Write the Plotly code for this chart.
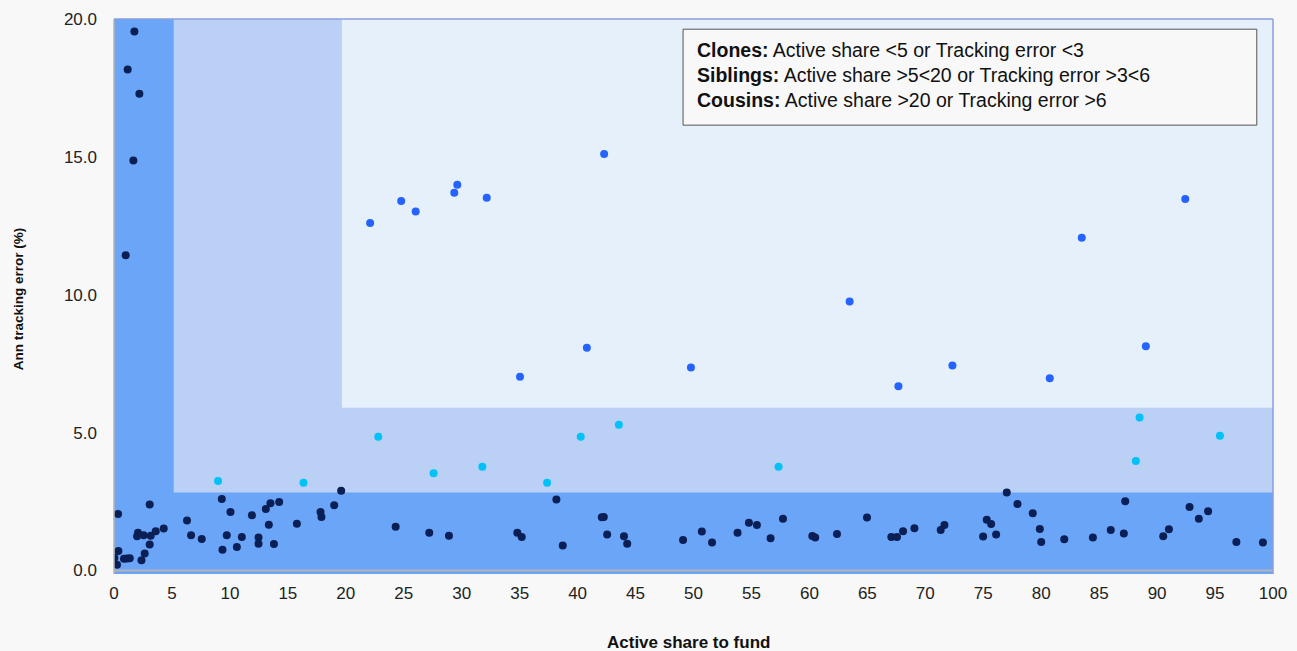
import plotly.graph_objects as go

# ---- data ----
clones_x = [1.76, 1.18, 2.19, 1.67, 1.01,
            19.6, 0.35, 3.08, 9.3, 10.05, 11.9, 13.1, 13.5, 14.25, 13.36, 15.78, 17.82, 17.9, 19.0,
            6.3, 6.65, 7.57, 9.73, 9.36, 10.6, 11.03, 12.47, 12.47, 13.8, 4.29, 3.6, 3.17, 3.08,
            2.56, 2.07, 1.99, 2.65, 2.37, 0.38, 0.03, 0.26, 0.86, 1.12, 1.36,
            24.3, 27.2, 28.9, 34.8, 35.18, 38.17, 38.72, 42.09, 42.26, 42.55, 44.0, 44.28,
            49.1, 50.72, 51.6, 53.8, 54.78, 55.47, 56.65, 57.72, 60.25, 60.5,
            62.38, 64.97, 67.07, 67.56, 68.08, 69.06, 71.33, 71.65, 74.99, 75.3, 75.68, 76.11,
            77.03, 77.95, 79.27, 79.88, 80.0, 81.99, 84.46, 86.0, 87.13, 87.25, 90.53, 91.02,
            92.8, 93.6, 94.4, 96.84, 99.13]
clones_y = [19.55, 18.17, 17.29, 14.87, 11.43,
            2.89, 2.05, 2.39, 2.59, 2.12, 2.0, 2.23, 2.44, 2.48, 1.66, 1.69, 2.12, 1.94, 2.36,
            1.81, 1.28, 1.14, 1.28, 0.75, 0.85, 1.21, 1.19, 0.97, 0.96, 1.52, 1.42, 1.26, 0.94,
            1.28, 1.37, 1.24, 0.61, 0.37, 0.7, 0.46, 0.21, 0.42, 0.43, 0.44,
            1.58, 1.37, 1.26, 1.37, 1.21, 2.57, 0.9, 1.93, 1.94, 1.3, 1.24, 0.97,
            1.1, 1.41, 1.01, 1.37, 1.73, 1.65, 1.17, 1.87, 1.25, 1.19,
            1.32, 1.92, 1.21, 1.21, 1.42, 1.53, 1.47, 1.65, 1.23, 1.84, 1.68, 1.3,
            2.83, 2.41, 2.07, 1.5, 1.03, 1.13, 1.19, 1.47, 1.34, 2.51, 1.24, 1.49,
            2.3, 1.87, 2.15, 1.03, 1.01]

siblings_x = [8.98, 16.35, 22.8, 27.58, 31.78, 37.37, 40.27, 43.56, 57.34, 88.49, 95.42, 88.17]
siblings_y = [3.24, 3.18, 4.85, 3.52, 3.76, 3.18, 4.85, 5.28, 3.76, 5.55, 4.88, 3.97]

cousins_x = [22.1, 24.78, 26.03, 29.36, 29.62, 32.16, 42.29, 40.8, 35.03, 49.78,
             63.47, 67.68, 72.34, 80.74, 83.5, 89.03, 92.43]
cousins_y = [12.6, 13.4, 13.02, 13.7, 13.99, 13.52, 15.1, 8.08, 7.02, 7.36,
             9.75, 6.68, 7.43, 6.97, 12.07, 8.13, 13.47]

legend_lines = [
    "<b>Clones:</b> Active share <5 or Tracking error <3",
    "<b>Siblings:</b> Active share >5<20 or Tracking error >3<6",
    "<b>Cousins:</b> Active share >20 or Tracking error >6",
]

x_title = "Active share to fund"
y_title = "Ann tracking error (%)"

# ---- style ----
FONT = "Liberation Sans"
C_DARK_BAND = "#6ba5f8"
C_MID_BAND = "#bbd0f5"
C_LIGHT_BAND = "#e6f0fa"
YMIN = -0.13

fig = go.Figure()
fig.add_trace(go.Scatter(x=clones_x, y=clones_y, mode="markers", name="Clones",
                         marker=dict(color="#0a1f56", size=8, line=dict(width=0))))
fig.add_trace(go.Scatter(x=siblings_x, y=siblings_y, mode="markers", name="Siblings",
                         marker=dict(color="#00c2f6", size=8, line=dict(width=0))))
fig.add_trace(go.Scatter(x=cousins_x, y=cousins_y, mode="markers", name="Cousins",
                         marker=dict(color="#2563ff", size=8, line=dict(width=0))))

shapes = [
    # medium bands (siblings zone)
    dict(type="rect", x0=0, x1=19.66, y0=YMIN, y1=20, fillcolor=C_MID_BAND, line_width=0, layer="below"),
    dict(type="rect", x0=0, x1=100, y0=YMIN, y1=5.9, fillcolor=C_MID_BAND, line_width=0, layer="below"),
    # dark bands (clones zone)
    dict(type="rect", x0=0, x1=5.15, y0=YMIN, y1=20, fillcolor=C_DARK_BAND, line_width=0, layer="below"),
    dict(type="rect", x0=0, x1=100, y0=YMIN, y1=2.83, fillcolor=C_DARK_BAND, line_width=0, layer="below"),
    # zero line
    dict(type="line", x0=0, x1=100, y0=0, y1=0, line=dict(color="#b4b4b4", width=2), layer="below"),
    # borders
    dict(type="line", xref="paper", yref="paper", x0=0, x1=0, y0=0, y1=1,
         line=dict(color="#b4b4b4", width=1.5)),
    dict(type="line", xref="paper", yref="paper", x0=0, x1=1, y0=1, y1=1,
         line=dict(color="#8a9fdf", width=1.5)),
    dict(type="line", xref="paper", yref="paper", x0=1, x1=1, y0=0, y1=1,
         line=dict(color="#8a9fdf", width=1.5)),
    # legend box
    dict(type="rect", x0=49.1, x1=98.6, y0=16.15, y1=19.63, fillcolor="#f8f8f8",
         line=dict(color="#555555", width=1)),
]

annotations = []
for i, t in enumerate(legend_lines):
    annotations.append(dict(x=50.15, y=18.87 - i * 0.905, xref="x", yref="y", text=t,
                            showarrow=False, xanchor="left", yanchor="middle", align="left",
                            font=dict(family=FONT, size=19.5, color="#111111")))
# axis titles
annotations.append(dict(x=0.496, y=-0.1243, xref="paper", yref="paper",
                        text=f"<b>{x_title}</b>", showarrow=False,
                        xanchor="center", yanchor="middle",
                        font=dict(family=FONT, size=17, color="#111111")))
annotations.append(dict(x=-0.0828, y=0.495, xref="paper", yref="paper",
                        text=f"<b>{y_title}</b>", showarrow=False, textangle=-90,
                        xanchor="center", yanchor="middle",
                        font=dict(family=FONT, size=13.5, color="#111111")))

fig.update_layout(
    width=1297, height=651,
    margin=dict(l=114, r=24, t=19, b=77),
    paper_bgcolor="#f8f8f8",
    plot_bgcolor=C_LIGHT_BAND,
    showlegend=False,
    shapes=shapes,
    annotations=annotations,
    font=dict(family=FONT, color="#222222"),
)
fig.update_xaxes(range=[0, 100], dtick=5, tick0=0, showgrid=False, zeroline=False,
                 showline=False, ticks="", ticklabelstandoff=7, automargin=False,
                 tickfont=dict(family=FONT, size=17, color="#222222"))
fig.update_yaxes(range=[YMIN, 20], dtick=5, tick0=0, tickformat=".1f", showgrid=False,
                 zeroline=False, showline=False, ticks="", ticklabelstandoff=16, automargin=False,
                 tickfont=dict(family=FONT, size=17, color="#222222"))

fig.write_html("out.html", config={"displayModeBar": False},
               post_script="document.body.style.margin='0';document.body.style.background='#f8f8f8';")
